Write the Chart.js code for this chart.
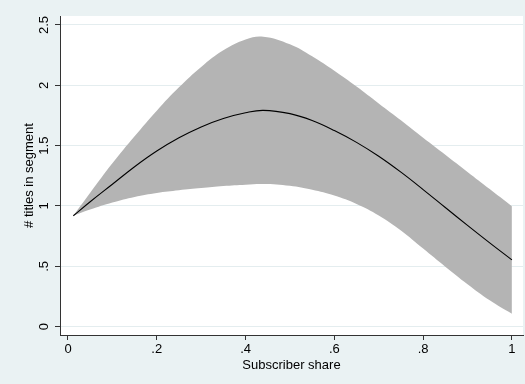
<!DOCTYPE html>
<html lang="en">
<head>
	<meta charset="UTF-8">
	<title>Titles in segment by subscriber share</title>
	<script src="https://cdn.jsdelivr.net/npm/chart.js"></script>
	<style>
		html, body { margin: 0; padding: 0; background: #eaf2f3; }
		#wrap { width: 525px; height: 384px; }
	</style>
</head>
<body>
<div id="wrap"><canvas id="fitChart" width="525" height="384"></canvas></div>
<script>
	// values
	const share = [0.012, 0.05, 0.1, 0.15, 0.2, 0.25, 0.3, 0.35, 0.4, 0.44, 0.5, 0.55, 0.6, 0.65, 0.7, 0.75, 0.8, 0.85, 0.9, 0.95, 1.0];
	const fitted = [0.919, 1.035, 1.18, 1.325, 1.455, 1.565, 1.655, 1.725, 1.772, 1.792, 1.765, 1.708, 1.625, 1.527, 1.412, 1.28, 1.136, 0.987, 0.839, 0.694, 0.553];
	const upperCI = [0.919, 1.11, 1.354, 1.578, 1.79, 1.983, 2.152, 2.29, 2.38, 2.403, 2.34, 2.24, 2.12, 1.99, 1.85, 1.71, 1.566, 1.425, 1.282, 1.14, 0.997];
	const lowerCI = [0.919, 0.97, 1.028, 1.075, 1.108, 1.13, 1.148, 1.165, 1.176, 1.182, 1.167, 1.134, 1.086, 1.017, 0.922, 0.797, 0.647, 0.497, 0.352, 0.219, 0.107];

	const xTicks = [0, 0.2, 0.4, 0.6, 0.8, 1];
	const xTickLabels = ['0', '.2', '.4', '.6', '.8', '1'];
	const yTicks = [0, 0.5, 1, 1.5, 2, 2.5];
	const yTickLabels = ['0', '.5', '1', '1.5', '2', '2.5'];

	const pts = ys => share.map((x, i) => ({x: x, y: ys[i]}));

	// white plot region on the bluish graph background
	const plotBg = {
		id: 'plotBg',
		beforeDraw(chart) {
			const {ctx, chartArea: a} = chart;
			ctx.save();
			ctx.fillStyle = '#eaf2f3';
			ctx.fillRect(0, 0, chart.width, chart.height);
			ctx.fillStyle = '#ffffff';
			ctx.fillRect(a.left, a.top, a.right - a.left, a.bottom - a.top);
			ctx.restore();
		}
	};

	Chart.defaults.font.family = '"Liberation Sans", Arial, sans-serif';
	Chart.defaults.font.size = 13;
	Chart.defaults.color = '#000';

	const ctx = document.getElementById('fitChart').getContext('2d');
	const fitChart = new Chart(ctx, {
		type: 'line',
		data: {
			datasets: [
				{
					data: pts(fitted),
					borderColor: '#000',
					borderWidth: 1.1,
					pointRadius: 0,
					tension: 0.4,
					fill: false
				},
				{
					data: pts(upperCI),
					borderWidth: 0,
					borderColor: 'rgba(0,0,0,0)',
					backgroundColor: '#b4b4b4',
					pointRadius: 0,
					tension: 0.4,
					fill: '+1'
				},
				{
					data: pts(lowerCI),
					borderWidth: 0,
					borderColor: 'rgba(0,0,0,0)',
					pointRadius: 0,
					tension: 0.4,
					fill: false
				}
			]
		},
		options: {
			responsive: false,
			animation: false,
			layout: { padding: { top: 16, right: 2, left: 0, bottom: 0 } },
			plugins: { legend: { display: false }, tooltip: { enabled: false } },
			scales: {
				x: {
					type: 'linear',
					min: -0.018,
					max: 1.025,
					afterBuildTicks: s => { s.ticks = xTicks.map(v => ({value: v})); },
					afterFit: s => { s.height = 49; },
					ticks: {
						padding: 2,
						maxRotation: 0,
						callback: v => xTickLabels[xTicks.indexOf(v)]
					},
					grid: { drawOnChartArea: false, tickColor: '#333', tickLength: 5 },
					border: { color: '#333', width: 1 },
					title: { display: true, text: 'Subscriber share', padding: { top: 0, bottom: 11 } }
				},
				y: {
					min: -0.069,
					max: 2.574,
					afterBuildTicks: s => { s.ticks = yTicks.map(v => ({value: v})); },
					afterFit: s => { s.width = 60; },
					ticks: {
						padding: 2,
						minRotation: 90,
						maxRotation: 90,
						crossAlign: 'center',
						callback: v => yTickLabels[yTicks.indexOf(v)]
					},
					grid: { color: '#e4edef', tickColor: '#333', tickLength: 5 },
					border: { color: '#333', width: 1 },
					title: { display: true, text: '# titles in segment', padding: { top: 22, bottom: 0 } }
				}
			}
		},
		plugins: [plotBg]
	});
</script>
</body>
</html>
